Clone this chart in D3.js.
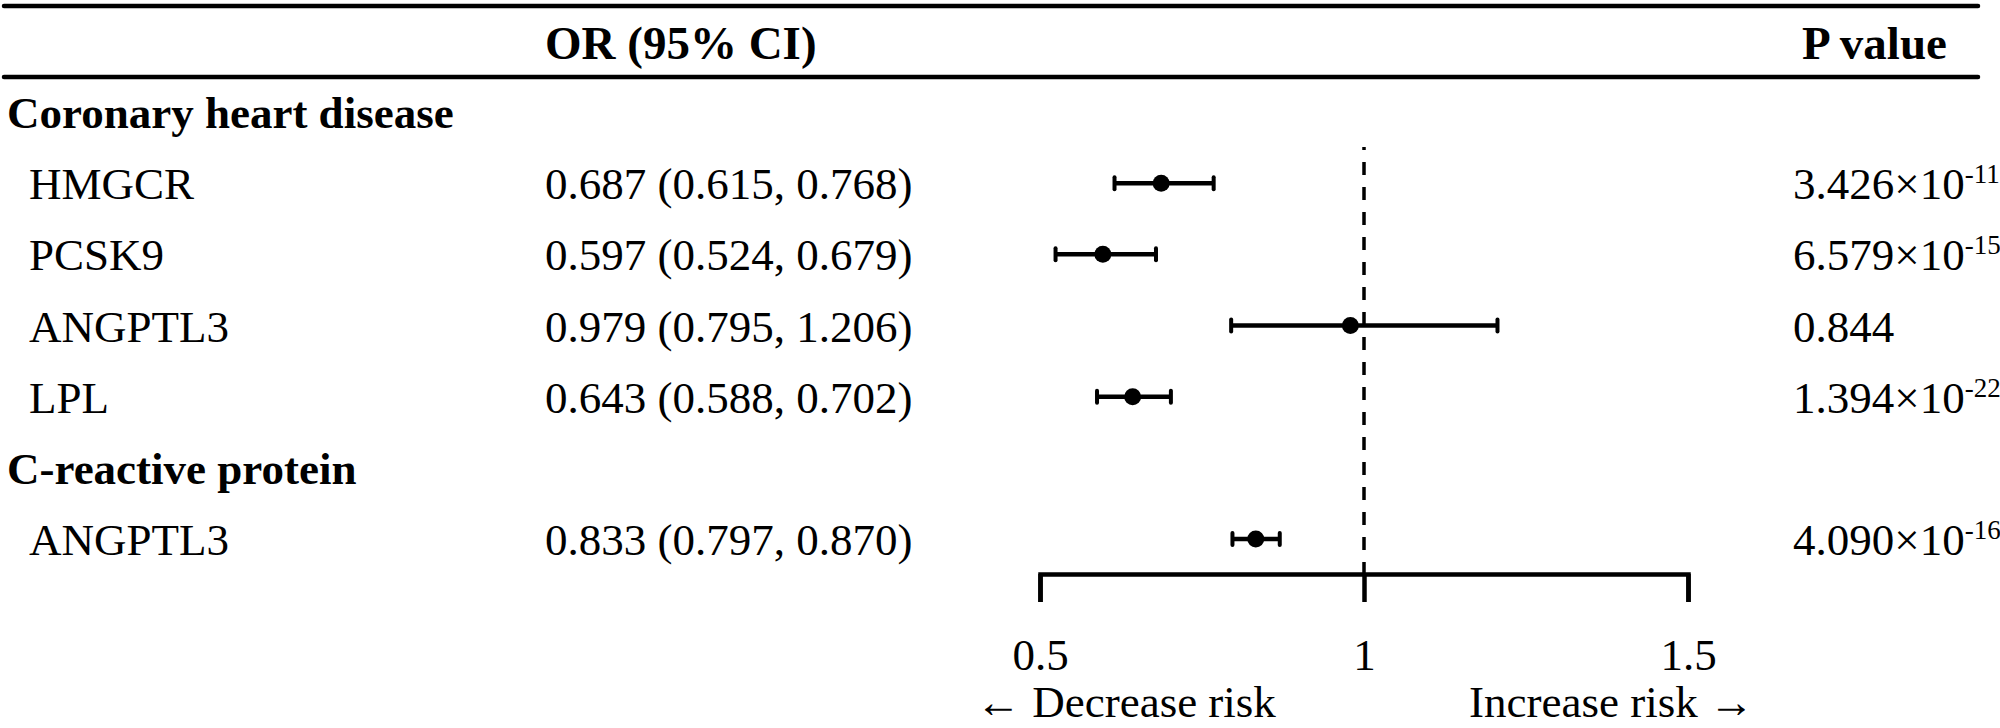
<!DOCTYPE html>
<html>
<head>
<meta charset="utf-8">
<script src="https://d3js.org/d3.v7.min.js"></script>
<style>
  body { margin: 0; background: #fff; }
  text { font-family: "Liberation Serif", "Times New Roman", serif; fill: #000; }
</style>
</head>
<body>
<div id="chart"></div>
<script>
// data
var outcomes = ["Coronary heart disease", "C-reactive protein"];
var genes = ["HMGCR", "PCSK9", "ANGPTL3", "LPL", "ANGPTL3"];
var outcomeOf = [0, 0, 0, 0, 1];
var orValues = [0.687, 0.597, 0.979, 0.643, 0.833];
var lower = [0.615, 0.524, 0.795, 0.588, 0.797];
var upper = [0.768, 0.679, 1.206, 0.702, 0.870];
var pMantissa = ["3.426", "6.579", "0.844", "1.394", "4.090"];
var pExponent = ["-11", "-15", "", "-22", "-16"];
var tickValues = [0.5, 1, 1.5];

var width = 2000, height = 728;

var svg = d3.select("#chart")
  .append("svg")
    .attr("width", width)
    .attr("height", height);

// build the table rows: a header row per outcome, then its genes
var rows = [];
outcomes.forEach(function(o, oi) {
  rows.push({type: "group", label: o});
  genes.forEach(function(g, i) {
    if (outcomeOf[i] === oi) {
      rows.push({type: "item", label: g, or: orValues[i], lo: lower[i], hi: upper[i],
                 p: pMantissa[i], e: pExponent[i]});
    }
  });
});

// row baselines
var y = d3.scalePoint()
  .domain(d3.range(rows.length))
  .range([128, 555]);

// OR scale
var x = d3.scaleLinear()
  .domain([0.5, 1.5])
  .range([1040, 1688]);

var fmt = d3.format(".3f");

// horizontal rules
svg.selectAll("line.rule")
  .data([6, 77])
  .enter()
  .append("line")
    .attr("class", "rule")
    .attr("x1", 4).attr("x2", 1978)
    .attr("y1", function(d) { return d; })
    .attr("y2", function(d) { return d; })
    .attr("stroke", "#000")
    .attr("stroke-width", 4.5)
    .attr("stroke-linecap", "round");

// column headers
svg.append("text")
  .attr("x", 545).attr("y", 59)
  .attr("font-size", 47).attr("font-weight", "bold")
  .text("OR (95% CI)");
svg.append("text")
  .attr("x", 1802).attr("y", 59)
  .attr("font-size", 47).attr("font-weight", "bold")
  .text("P value");

// labels
svg.selectAll("text.label")
  .data(rows)
  .enter()
  .append("text")
    .attr("class", "label")
    .attr("x", function(d) { return d.type === "group" ? 7 : 29; })
    .attr("y", function(d, i) { return y(i); })
    .attr("font-size", 45)
    .attr("font-weight", function(d) { return d.type === "group" ? "bold" : "normal"; })
    .text(function(d) { return d.label; });

var items = rows.map(function(d, i) { d.row = i; return d; })
  .filter(function(d) { return d.type === "item"; });

// OR (95% CI) column
svg.selectAll("text.or")
  .data(items)
  .enter()
  .append("text")
    .attr("class", "or")
    .attr("x", 545)
    .attr("y", function(d) { return y(d.row); })
    .attr("font-size", 45)
    .text(function(d) { return fmt(d.or) + " (" + fmt(d.lo) + ", " + fmt(d.hi) + ")"; });

// P value column
var pText = svg.selectAll("text.p")
  .data(items)
  .enter()
  .append("text")
    .attr("class", "p")
    .attr("x", 1793)
    .attr("y", function(d) { return y(d.row); })
    .attr("font-size", 45);
pText.append("tspan")
  .text(function(d) { return d.e ? d.p + "×10" : d.p; });
pText.filter(function(d) { return d.e; })
  .append("tspan")
    .attr("font-size", 27)
    .attr("dy", -16)
    .text(function(d) { return d.e; });

// reference line at OR = 1
svg.append("line")
  .attr("x1", x(1)).attr("x2", x(1))
  .attr("y1", 147).attr("y2", 574)
  .attr("stroke", "#000")
  .attr("stroke-width", 3.5)
  .attr("stroke-dasharray", "13,12")
  .attr("stroke-dashoffset", 10);

// axis
var axis = svg.append("g")
  .attr("transform", "translate(0,574)")
  .call(d3.axisBottom(x).tickValues(tickValues).tickSize(28).tickSizeOuter(28)
        .tickFormat(d3.format("")));
axis.select(".domain").attr("stroke-width", 4.5).attr("stroke-linejoin", "miter");
axis.selectAll(".tick line").attr("stroke-width", 4.5);
axis.selectAll(".tick text")
  .attr("y", 96).attr("dy", 0)
  .attr("font-size", 45)
  .attr("font-family", "Liberation Serif")
  .attr("fill", "#000");

// whiskers
var bars = svg.selectAll("g.bar")
  .data(items)
  .enter()
  .append("g")
    .attr("class", "bar")
    .attr("transform", function(d) { return "translate(0," + (y(d.row) - 16) + ")"; });
bars.append("line")
  .attr("x1", function(d) { return x(d.lo); })
  .attr("x2", function(d) { return x(d.hi); })
  .attr("stroke", "#000").attr("stroke-width", 4.5);
bars.selectAll("line.cap")
  .data(function(d) { return [d.lo, d.hi]; })
  .enter()
  .append("line")
    .attr("class", "cap")
    .attr("x1", function(v) { return x(v); })
    .attr("x2", function(v) { return x(v); })
    .attr("y1", -6).attr("y2", 6)
    .attr("stroke", "#000").attr("stroke-width", 4)
    .attr("stroke-linecap", "round");
bars.append("circle")
  .attr("cx", function(d) { return x(d.or); })
  .attr("r", 8.5)
  .attr("fill", "#000");

// direction labels
svg.append("text")
  .attr("x", 976).attr("y", 717)
  .attr("font-size", 45)
  .text("← Decrease risk");
svg.append("text")
  .attr("x", 1754).attr("y", 717)
  .attr("text-anchor", "end")
  .attr("font-size", 45)
  .text("Increase risk →");
</script>
</body>
</html>
